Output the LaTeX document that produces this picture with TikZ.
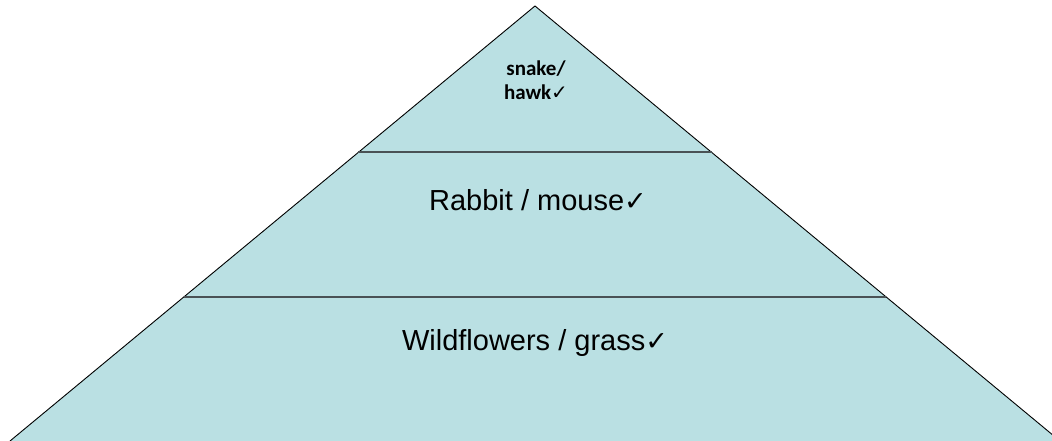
\documentclass[tikz,border=0pt]{standalone}
\usepackage{fontspec}
\setmainfont{Liberation Sans}
\newfontfamily\calib{Carlito}
\newfontfamily\djv{DejaVu Sans}
\definecolor{tierfill}{HTML}{BAE0E3}
\definecolor{tierline}{HTML}{4A5255}
\newcommand{\tick}{{\djv\fontsize{27}{30}\selectfont ✓}}
\newcommand{\tickS}{{\djv\bfseries\fontsize{20}{22}\selectfont ✓}}
\begin{document}
\begin{tikzpicture}[x=1pt,y=-1pt,
  tierlbl/.style={inner sep=0pt, font=\fontsize{29}{34}\selectfont},
  toplbl/.style={inner sep=0pt, align=center, font=\calib\bfseries\fontsize{21}{24}\selectfont},
  divider/.style={draw=tierline, line width=2.4pt}]
\useasboundingbox (0,0) rectangle (1052,441);
\clip (0,0) rectangle (1052,441);
\coordinate (apex) at (535,6);
\coordinate (bl) at (10,441);
\coordinate (br) at (1060,441);
\fill[tierfill] (bl) -- (apex) -- (br) -- cycle;
\draw[black, line width=0.9pt] (bl) -- (apex) -- (br);
\coordinate (d1l) at (358,152);
\coordinate (d1r) at (712,152);
\coordinate (d2l) at (184,297);
\coordinate (d2r) at (886,297);
\draw[divider] (d1l) -- (d1r);
\draw[divider] (d2l) -- (d2r);
\node[toplbl, anchor=base] (top) at (536,100) {snake/\\hawk\tickS};
\node[tierlbl, anchor=base] (mid) at (538,210) {Rabbit / mouse\tick};
\node[tierlbl, anchor=base] (bot) at (535,350) {Wildflowers / grass\tick};
\end{tikzpicture}
\end{document}
